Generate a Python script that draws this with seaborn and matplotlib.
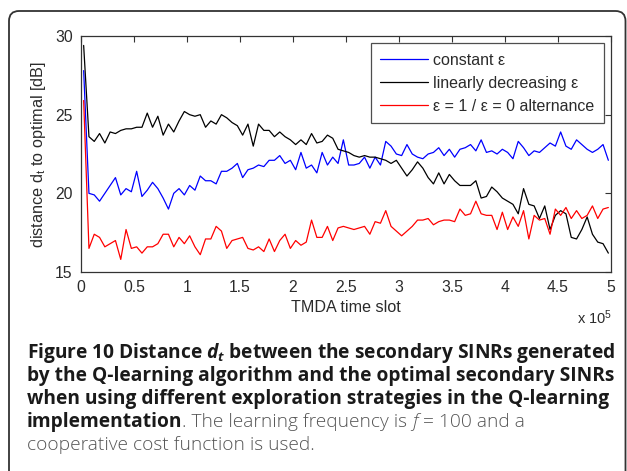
import numpy as np
import pandas as pd
import matplotlib
matplotlib.use('Agg')
import matplotlib.pyplot as plt
import seaborn as sns
from matplotlib.patches import FancyBboxPatch

# time slots (x 10^5), one sample every 5000 slots
slot = np.arange(100) * 0.05 + 0.025

const_eps = [27.8, 20.0, 19.9, 19.5, 20.0, 20.5, 21.0, 19.9, 20.3, 20.1,
             21.4, 19.8, 20.2, 20.7, 20.3, 19.7, 19.0, 20.0, 20.3, 19.9,
             20.5, 20.2, 21.1, 20.8, 20.8, 20.6, 21.4, 21.4, 21.6, 21.9,
             21.0, 21.5, 21.6, 21.8, 21.7, 22.1, 22.1, 22.4, 21.9, 22.1,
             21.5, 22.6, 21.6, 21.8, 21.3, 22.6, 21.8, 22.3, 21.9, 23.4,
             21.8, 21.8, 21.9, 22.3, 21.6, 22.3, 21.8, 23.3, 23.0, 22.5,
             22.4, 23.1, 22.5, 22.3, 22.2, 22.5, 22.6, 22.9, 22.4, 22.8,
             22.3, 22.8, 22.9, 23.1, 22.7, 23.4, 22.6, 22.7, 22.5, 22.8,
             22.6, 22.2, 23.3, 22.9, 22.4, 22.7, 22.6, 22.9, 23.2, 23.0,
             23.9, 23.0, 22.8, 23.4, 23.1, 22.8, 22.6, 22.8, 23.1, 22.1]

lin_dec_eps = [29.4, 23.6, 23.3, 23.8, 23.2, 23.9, 23.8, 24.0, 24.1, 24.1,
               24.2, 24.2, 25.1, 24.2, 24.9, 23.7, 24.4, 23.9, 24.6, 25.2,
               25.0, 24.9, 25.0, 24.2, 24.6, 24.4, 25.0, 24.8, 24.5, 24.3,
               23.7, 24.4, 23.0, 24.4, 24.0, 24.0, 23.6, 23.9, 23.6, 23.4,
               23.1, 23.4, 23.1, 23.8, 23.2, 23.3, 23.7, 23.5, 22.8, 22.7,
               22.6, 22.4, 22.3, 22.4, 22.3, 22.3, 22.2, 22.1, 21.9, 22.1,
               21.6, 21.1, 21.5, 22.0, 21.6, 21.0, 20.6, 21.3, 20.6, 21.2,
               20.8, 20.5, 20.5, 20.5, 20.8, 19.7, 19.8, 20.4, 20.1, 19.7,
               19.5, 19.3, 18.7, 20.3, 19.3, 19.2, 18.4, 19.2, 17.7, 18.6,
               18.9, 18.7, 17.2, 17.1, 17.7, 18.5, 17.4, 16.9, 16.8, 16.2]

alternance = [25.9, 16.5, 17.4, 17.2, 16.6, 16.8, 17.0, 15.8, 17.7, 16.5,
              16.6, 16.2, 16.6, 16.6, 16.8, 17.4, 17.4, 16.6, 17.2, 16.8,
              17.3, 16.6, 16.1, 17.1, 17.1, 17.9, 17.6, 16.5, 17.0, 17.1,
              17.2, 16.5, 16.4, 16.6, 16.3, 17.1, 16.3, 17.0, 17.4, 16.5,
              17.0, 16.7, 16.9, 18.3, 17.2, 17.2, 17.9, 17.0, 17.8, 17.9,
              17.8, 17.7, 17.8, 17.9, 17.4, 18.2, 18.1, 18.9, 17.9, 17.6,
              17.3, 17.6, 17.9, 18.3, 18.3, 18.4, 18.0, 18.2, 18.3, 18.3,
              18.2, 19.0, 18.6, 18.7, 19.5, 18.7, 18.6, 18.6, 17.7, 18.8,
              17.7, 18.5, 17.9, 18.9, 17.1, 18.6, 18.3, 18.4, 17.4, 19.0,
              18.6, 19.1, 18.4, 18.9, 18.4, 18.6, 19.2, 18.4, 19.0, 19.1]

labels = ['constant ε', 'linearly decreasing ε', 'ε = 1 / ε = 0 alternance']
colors = ['#0000ff', '#000000', '#ff0000']
xticks = [0, 0.5, 1, 1.5, 2, 2.5, 3, 3.5, 4, 4.5, 5]
xtick_labels = ['0', '0.5', '1', '1.5', '2', '2.5', '3', '3.5', '4', '4.5', '5']
yticks = [15, 20, 25, 30]

df = pd.DataFrame({
    'slot': np.tile(slot, 3),
    'dist': np.concatenate([const_eps, lin_dec_eps, alternance]),
    'strategy': np.repeat(labels, len(slot)),
})

sns.set_style('white')
plt.rcParams['font.family'] = ['Liberation Sans', 'DejaVu Sans']
plt.rcParams['mathtext.fontset'] = 'custom'
plt.rcParams['mathtext.rm'] = 'Liberation Sans'
plt.rcParams['mathtext.it'] = 'Open Sans:italic:bold'

txt = '#2b2b2b'
fig = plt.figure(figsize=(6.27, 4.71), dpi=100)
ax = fig.add_axes([81 / 627, 1 - 272 / 471, 530 / 627, 236 / 471])

sns.lineplot(data=df, x='slot', y='dist', hue='strategy', hue_order=labels,
             palette=colors, lw=0.9, legend=False, ax=ax)

ax.set_xlim(0, 5)
ax.set_ylim(15, 30)
ax.set_xticks(xticks)
ax.set_xticklabels(xtick_labels)
ax.set_yticks(yticks)
ax.tick_params(direction='in', top=True, right=True, length=4, width=0.8,
               labelsize=11.3, colors='#333333', labelcolor=txt, pad=6)
for s in ax.spines.values():
    s.set_color('#333333')
    s.set_linewidth(0.9)

ax.set_xlabel('TMDA time slot', fontsize=11.6, color=txt, labelpad=3)
ax.set_ylabel('distance d$_\\mathrm{t}$ to optimal [dB]', fontsize=11.7, color=txt, labelpad=5)

leg = ax.legend(ax.lines[:3], labels, loc='upper right', fontsize=11.5,
                frameon=True, fancybox=False, edgecolor='#222222',
                handlelength=3.0, handletextpad=0.3, labelspacing=0.5,
                borderaxespad=0.44, borderpad=0.6)
leg.get_frame().set_linewidth(0.9)
for t in leg.get_texts():
    t.set_color(txt)

fig.text(612 / 627, 1 - 318 / 471, 'x 10$^5$', fontsize=10.5, color=txt,
         ha='right', va='center')

# rounded frame around figure + caption
frame = FancyBboxPatch((0.09, -0.3), 6.165, 4.9,
                       boxstyle='round,pad=0,rounding_size=0.1',
                       transform=fig.dpi_scale_trans, fill=False,
                       ec='#333333', lw=1.3)
fig.add_artist(frame)

fs = 13.75
font = ['Open Sans', 'DejaVu Sans']
bold = dict(fontsize=fs, family=font, va='baseline', ha='left', weight='bold', color='#1a1a1a')
light = dict(fontsize=fs, family=font, va='baseline', ha='left', weight='light', color='#555555')
x0 = 27 / 627
fig.text(x0, 1 - 358 / 471, 'Figure 10 Distance $d_t$ between the secondary SINRs generated', **bold)
fig.text(x0, 1 - 381 / 471, 'by the Q-learning algorithm and the optimal secondary SINRs', **bold)
fig.text(x0, 1 - 404 / 471, 'when using different exploration strategies in the Q-learning', **bold)
y4 = 1 - 427 / 471
t4 = fig.text(x0, y4, 'implementation', **bold)
light_ann = dict(light, annotation_clip=False)
t5 = ax.annotate('. The learning frequency is ', xy=(1, y4), xycoords=(t4, 'figure fraction'), **light_ann)
t6 = ax.annotate('f', xy=(1, y4), xycoords=(t5, 'figure fraction'), style='italic', **light_ann)
ax.annotate(' = 100 and a', xy=(1, y4), xycoords=(t6, 'figure fraction'), **light_ann)
fig.text(x0, 1 - 450 / 471, 'cooperative cost function is used.', **light)

fig.savefig('out.png', dpi=100)
